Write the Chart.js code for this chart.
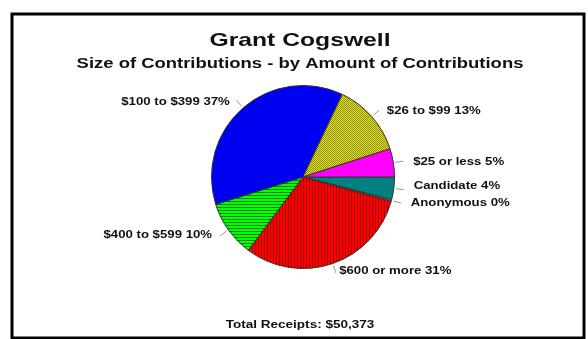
<!DOCTYPE html>
<html>
<head>
<meta charset="utf-8">
<script src="https://cdn.jsdelivr.net/npm/chart.js@4.4.1/dist/chart.umd.min.js"></script>
<style>
  html, body { margin: 0; padding: 0; background: #fff; }
  #wrap { width: 588px; height: 339px; position: relative; }
</style>
</head>
<body>
<div id="wrap"><canvas id="myChart"></canvas></div>
<script>
// slices in clockwise order, starting at 3 o'clock
const categories = ['Candidate', 'Anonymous', '$600 or more', '$400 to $599', '$100 to $399', '$26 to $99', '$25 or less'];
const shares = [4, 0.3, 31, 10, 37, 13, 5];
const titleText = 'Grant Cogswell';
const subtitleText = 'Size of Contributions - by Amount of Contributions';
const footerText = 'Total Receipts: $50,373';

window.addEventListener('load', function () {
    const makePattern = (base, dark, kind) => {
        const c = document.createElement('canvas')
        const n = kind === 'dots' ? 2 : 3
        c.width = n; c.height = n
        const g = c.getContext('2d')
        g.fillStyle = base
        g.fillRect(0, 0, n, n)
        g.fillStyle = dark
        if (kind === 'v') g.fillRect(0, 0, 1, n)
        if (kind === 'h') g.fillRect(0, 0, n, 1)
        if (kind === 'dots') { g.fillRect(0, 0, 1, 1); g.fillRect(1, 1, 1, 1) }
        return g.createPattern(c, 'repeat')
    }

    const fills = [
        '#008080',
        '#808080',
        makePattern('#ff0000', '#a00000', 'v'),
        makePattern('#00ff00', '#008000', 'h'),
        '#0000f0',
        makePattern('#e4e400', '#909000', 'dots'),
        '#ff00ff'
    ]

    const text = (ctx, str, x, y, size, align, sx) => {
        ctx.save()
        ctx.font = 'bold ' + size + 'px "Liberation Sans", Arial, sans-serif'
        ctx.fillStyle = '#111'
        ctx.textAlign = align
        ctx.textBaseline = 'middle'
        ctx.translate(x, y)
        ctx.scale(sx, 1)
        ctx.fillText(str, 0, 0)
        ctx.restore()
    }

    const decor = {
        id: 'decor',
        afterDraw(chart) {
            const ctx = chart.ctx
            // frame
            ctx.save()
            ctx.strokeStyle = '#000'
            ctx.lineWidth = 3
            ctx.strokeRect(12, 14, 572, 324)
            ctx.restore()

            text(ctx, titleText, 300, 41, 19, 'center', 1.3)
            text(ctx, subtitleText, 300, 64, 15, 'center', 1.23)
            text(ctx, footerText, 300, 325, 11, 'center', 1.23)

            const arcs = chart.getDatasetMeta(0).data
            const total = shares.reduce((a, b) => a + b, 0)
            const labels = arcs.map((arc, i) => {
                const mid = (arc.startAngle + arc.endAngle) / 2
                const cos = Math.cos(mid), sin = Math.sin(mid)
                const r = arc.outerRadius
                return {
                    i, cos, sin, r, x0: arc.x, y0: arc.y,
                    x: arc.x + (r + 20) * cos,
                    y: arc.y + (r + 8) * sin,
                    str: categories[i] + ' ' + Math.round(shares[i] / total * 100) + '%'
                }
            })

            // keep labels on the same side apart: move the upper one up
            const right = labels.filter(l => l.cos >= 0).sort((a, b) => b.y - a.y)
            for (let k = 1; k < right.length; k++) {
                const gap = right[k - 1].y - right[k].y
                if (gap < 17) right[k].y -= 17 - gap
            }

            ctx.save()
            ctx.strokeStyle = '#999'
            ctx.lineWidth = 1
            labels.forEach(l => {
                ctx.beginPath()
                ctx.moveTo(l.x0 + (l.r + 2) * l.cos, l.y0 + (l.r + 2) * l.sin)
                ctx.lineTo(l.x0 + (l.r + 10) * l.cos, l.y0 + (l.r + 10) * l.sin)
                ctx.stroke()
            })
            ctx.restore()

            labels.forEach(l => {
                text(ctx, l.str, l.x, l.y, 11, l.cos >= 0 ? 'left' : 'right', 1.2)
            })
        }
    }

    new Chart(document.getElementById('myChart'), {
        type: 'pie',
        data: {
            labels: categories,
            datasets: [{
                data: shares,
                backgroundColor: fills,
                borderColor: '#333',
                borderWidth: 1
            }]
        },
        options: {
            responsive: true,
            maintainAspectRatio: false,
            animation: false,
            rotation: 90,
            layout: {
                padding: { left: 211, right: 193, top: 85, bottom: 70 }
            },
            plugins: {
                legend: { display: false },
                tooltip: { enabled: false }
            }
        },
        plugins: [decor]
    })
})
</script>
</body>
</html>
